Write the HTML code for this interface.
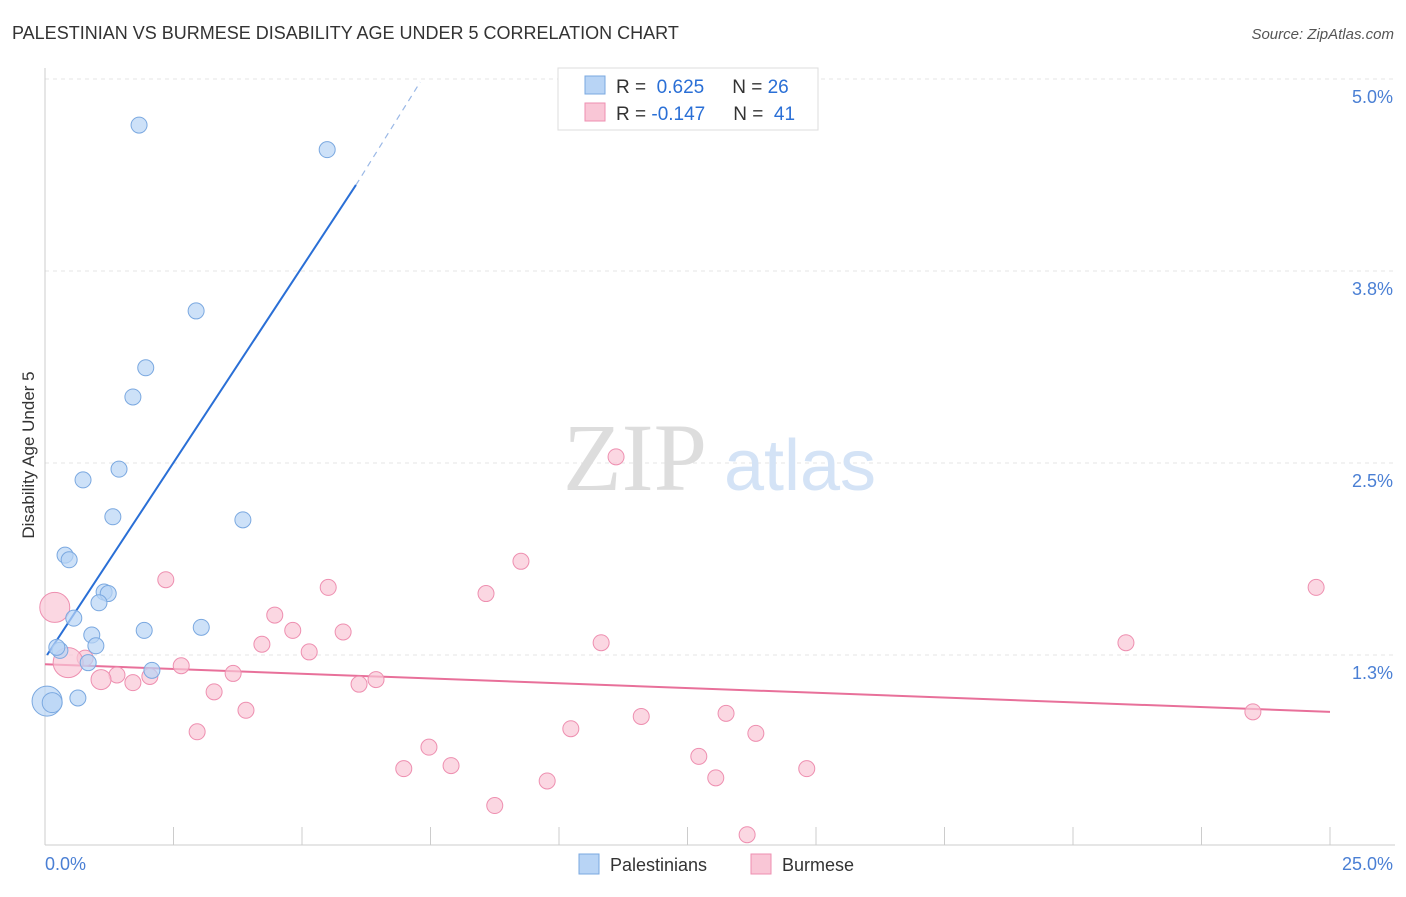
<!DOCTYPE html>
<html><head><meta charset="utf-8"><style>
body{margin:0;background:#fff;font-family:"Liberation Sans",sans-serif}
</style></head><body>
<svg id="chart" width="1406" height="892" viewBox="0 0 1406 892" xmlns="http://www.w3.org/2000/svg" font-family="Liberation Sans, sans-serif">
<text x="12" y="39" font-size="18" fill="#333">PALESTINIAN VS BURMESE DISABILITY AGE UNDER 5 CORRELATION CHART</text>
<text x="1394" y="39" font-size="15" fill="#555" text-anchor="end" font-style="italic">Source: ZipAtlas.com</text>
<g id="grid"></g>
<g>
<text x="635" y="490" font-size="96" font-family="Liberation Serif, serif" fill="#ddd" text-anchor="middle">ZIP</text>
<text x="800" y="490" font-size="72" fill="#d4e3f6" text-anchor="middle">atlas</text>
</g>
<g id="axes"></g>
<g id="lines"></g>
<g id="points"></g>
<text transform="translate(34,455) rotate(-90)" font-size="17" fill="#333" text-anchor="middle">Disability Age Under 5</text>
<g>
<rect x="558" y="68" width="260" height="62" fill="#fff" stroke="#ddd"/>
<rect x="585" y="76" width="20" height="18" fill="#b8d4f5" stroke="#7aa8e0"/>
<rect x="585" y="103" width="20" height="18" fill="#f9c6d6" stroke="#ee8fb0"/>
<text x="616" y="93" font-size="19" fill="#333">R = <tspan fill="#2a6fd6">&#160;0.625</tspan><tspan dx="28">N = </tspan><tspan fill="#2a6fd6">26</tspan></text>
<text x="616" y="120" font-size="19" fill="#333">R = <tspan fill="#2a6fd6">-0.147</tspan><tspan dx="28">N = </tspan><tspan fill="#2a6fd6">&#160;41</tspan></text>
</g>
<g>
<rect x="579" y="854" width="20" height="20" fill="#b8d4f5" stroke="#7aa8e0"/>
<text x="610" y="871" font-size="18" fill="#333">Palestinians</text>
<rect x="751" y="854" width="20" height="20" fill="#f9c6d6" stroke="#ee8fb0"/>
<text x="782" y="871" font-size="18" fill="#333">Burmese</text>
</g>
</svg>
<script>
const palX=[1.83,5.49,2.94,1.96,1.71,1.44,0.74,1.32,3.85,0.39,0.47,1.15,1.23,1.05,0.56,0.91,1.93,3.04,0.99,0.29,0.84,2.08,0.04,0.14,0.64,0.23];
const palY=[4.70,4.54,3.49,3.12,2.93,2.46,2.39,2.15,2.13,1.90,1.87,1.66,1.65,1.59,1.49,1.38,1.41,1.43,1.31,1.28,1.20,1.15,0.95,0.94,0.97,1.30];
const palR=[8,8,8,8,8,8,8,8,8,8,8,8,8,8,8,8,8,8,8,8,8,8,15,10,8,8];
const burX=[11.11,9.26,2.35,5.51,8.58,24.73,0.19,4.47,4.82,5.80,4.22,10.82,21.03,5.14,0.78,0.45,2.65,1.40,3.66,2.04,1.09,1.71,6.44,6.11,3.29,3.91,11.60,13.25,23.50,10.23,2.96,13.83,7.47,12.72,7.90,6.98,14.82,13.05,9.77,8.75,13.66];
const burY=[2.54,1.86,1.74,1.69,1.65,1.69,1.56,1.51,1.41,1.40,1.32,1.33,1.33,1.27,1.23,1.20,1.18,1.12,1.13,1.11,1.09,1.07,1.09,1.06,1.01,0.89,0.85,0.87,0.88,0.77,0.75,0.74,0.65,0.59,0.53,0.51,0.51,0.45,0.43,0.27,0.08];
const burR=[8,8,8,8,8,8,15,8,8,8,8,8,8,8,8,15,8,8,8,8,10,8,8,8,8,8,8,8,8,8,8,8,8,8,8,8,8,8,8,8,8];
const yTicks=[1.25,2.5,3.75,5.0];
const yTickLabels=["1.3%","2.5%","3.8%","5.0%"];
const xTickCount=10;
const xTickLabels=["0.0%","25.0%"];
const palTrend=[[0.04,1.25],[6.05,4.31],[7.3,4.98]];
const burTrend=[[0,1.19],[25,0.88]];

const NS="http://www.w3.org/2000/svg";
const sx=v=>45+v*51.4, sy=v=>847-v*153.6;
function mk(tag,attrs,parent){const e=document.createElementNS(NS,tag);for(const k in attrs)e.setAttribute(k,attrs[k]);document.getElementById(parent).appendChild(e);return e;}
yTicks.forEach((t,i)=>{
 const g=mk('line',{x1:45,x2:1395,y1:sy(t),y2:sy(t),stroke:'#e4e4e4','stroke-dasharray':'4,4'},'grid');
 
 const l=mk('text',{x:1393,y:sy(t)+24,'font-size':18,fill:'#4a7fd4','text-anchor':'end'},'axes');
 l.textContent=yTickLabels[i];
 
});
mk('line',{x1:45,x2:45,y1:68,y2:845,stroke:'#ccc'},'axes');
const ax=mk('line',{x1:45,x2:1395,y1:845,y2:845,stroke:'#ccc'},'axes');

for(let i=0;i<=xTickCount;i++){const x=sx(i*2.5);
 const t=mk('line',{x1:x,x2:x,y1:827,y2:845,stroke:'#ccc'},'axes');
 }
const x0=mk('text',{x:45,y:870,'font-size':18,fill:'#4a7fd4'},'axes');x0.textContent=xTickLabels[0];

const x1=mk('text',{x:1393,y:870,'font-size':18,fill:'#4a7fd4','text-anchor':'end'},'axes');x1.textContent=xTickLabels[1];


const b1=mk('line',{x1:sx(palTrend[0][0]),y1:sy(palTrend[0][1]),x2:sx(palTrend[1][0]),y2:sy(palTrend[1][1]),stroke:'#2a6fd6','stroke-width':2},'lines');

const b2=mk('line',{x1:sx(palTrend[1][0]),y1:sy(palTrend[1][1]),x2:sx(palTrend[2][0]),y2:sy(palTrend[2][1]),stroke:'#9ab8e6','stroke-width':1.2,'stroke-dasharray':'6,5'},'lines');

const p1=mk('line',{x1:sx(burTrend[0][0]),y1:sy(burTrend[0][1]),x2:sx(burTrend[1][0]),y2:sy(burTrend[1][1]),stroke:'#e8709a','stroke-width':2},'lines');


burX.forEach((v,i)=>{const c=mk('circle',{cx:sx(v),cy:sy(burY[i]),r:burR[i],fill:'#f9c6d6','fill-opacity':0.7,stroke:'#ee8fb0','stroke-width':1},'points');
 });
palX.forEach((v,i)=>{const c=mk('circle',{cx:sx(v),cy:sy(palY[i]),r:palR[i],fill:'#b8d4f5','fill-opacity':0.7,stroke:'#7aa8e0','stroke-width':1},'points');
 });
</script>
</body></html>
